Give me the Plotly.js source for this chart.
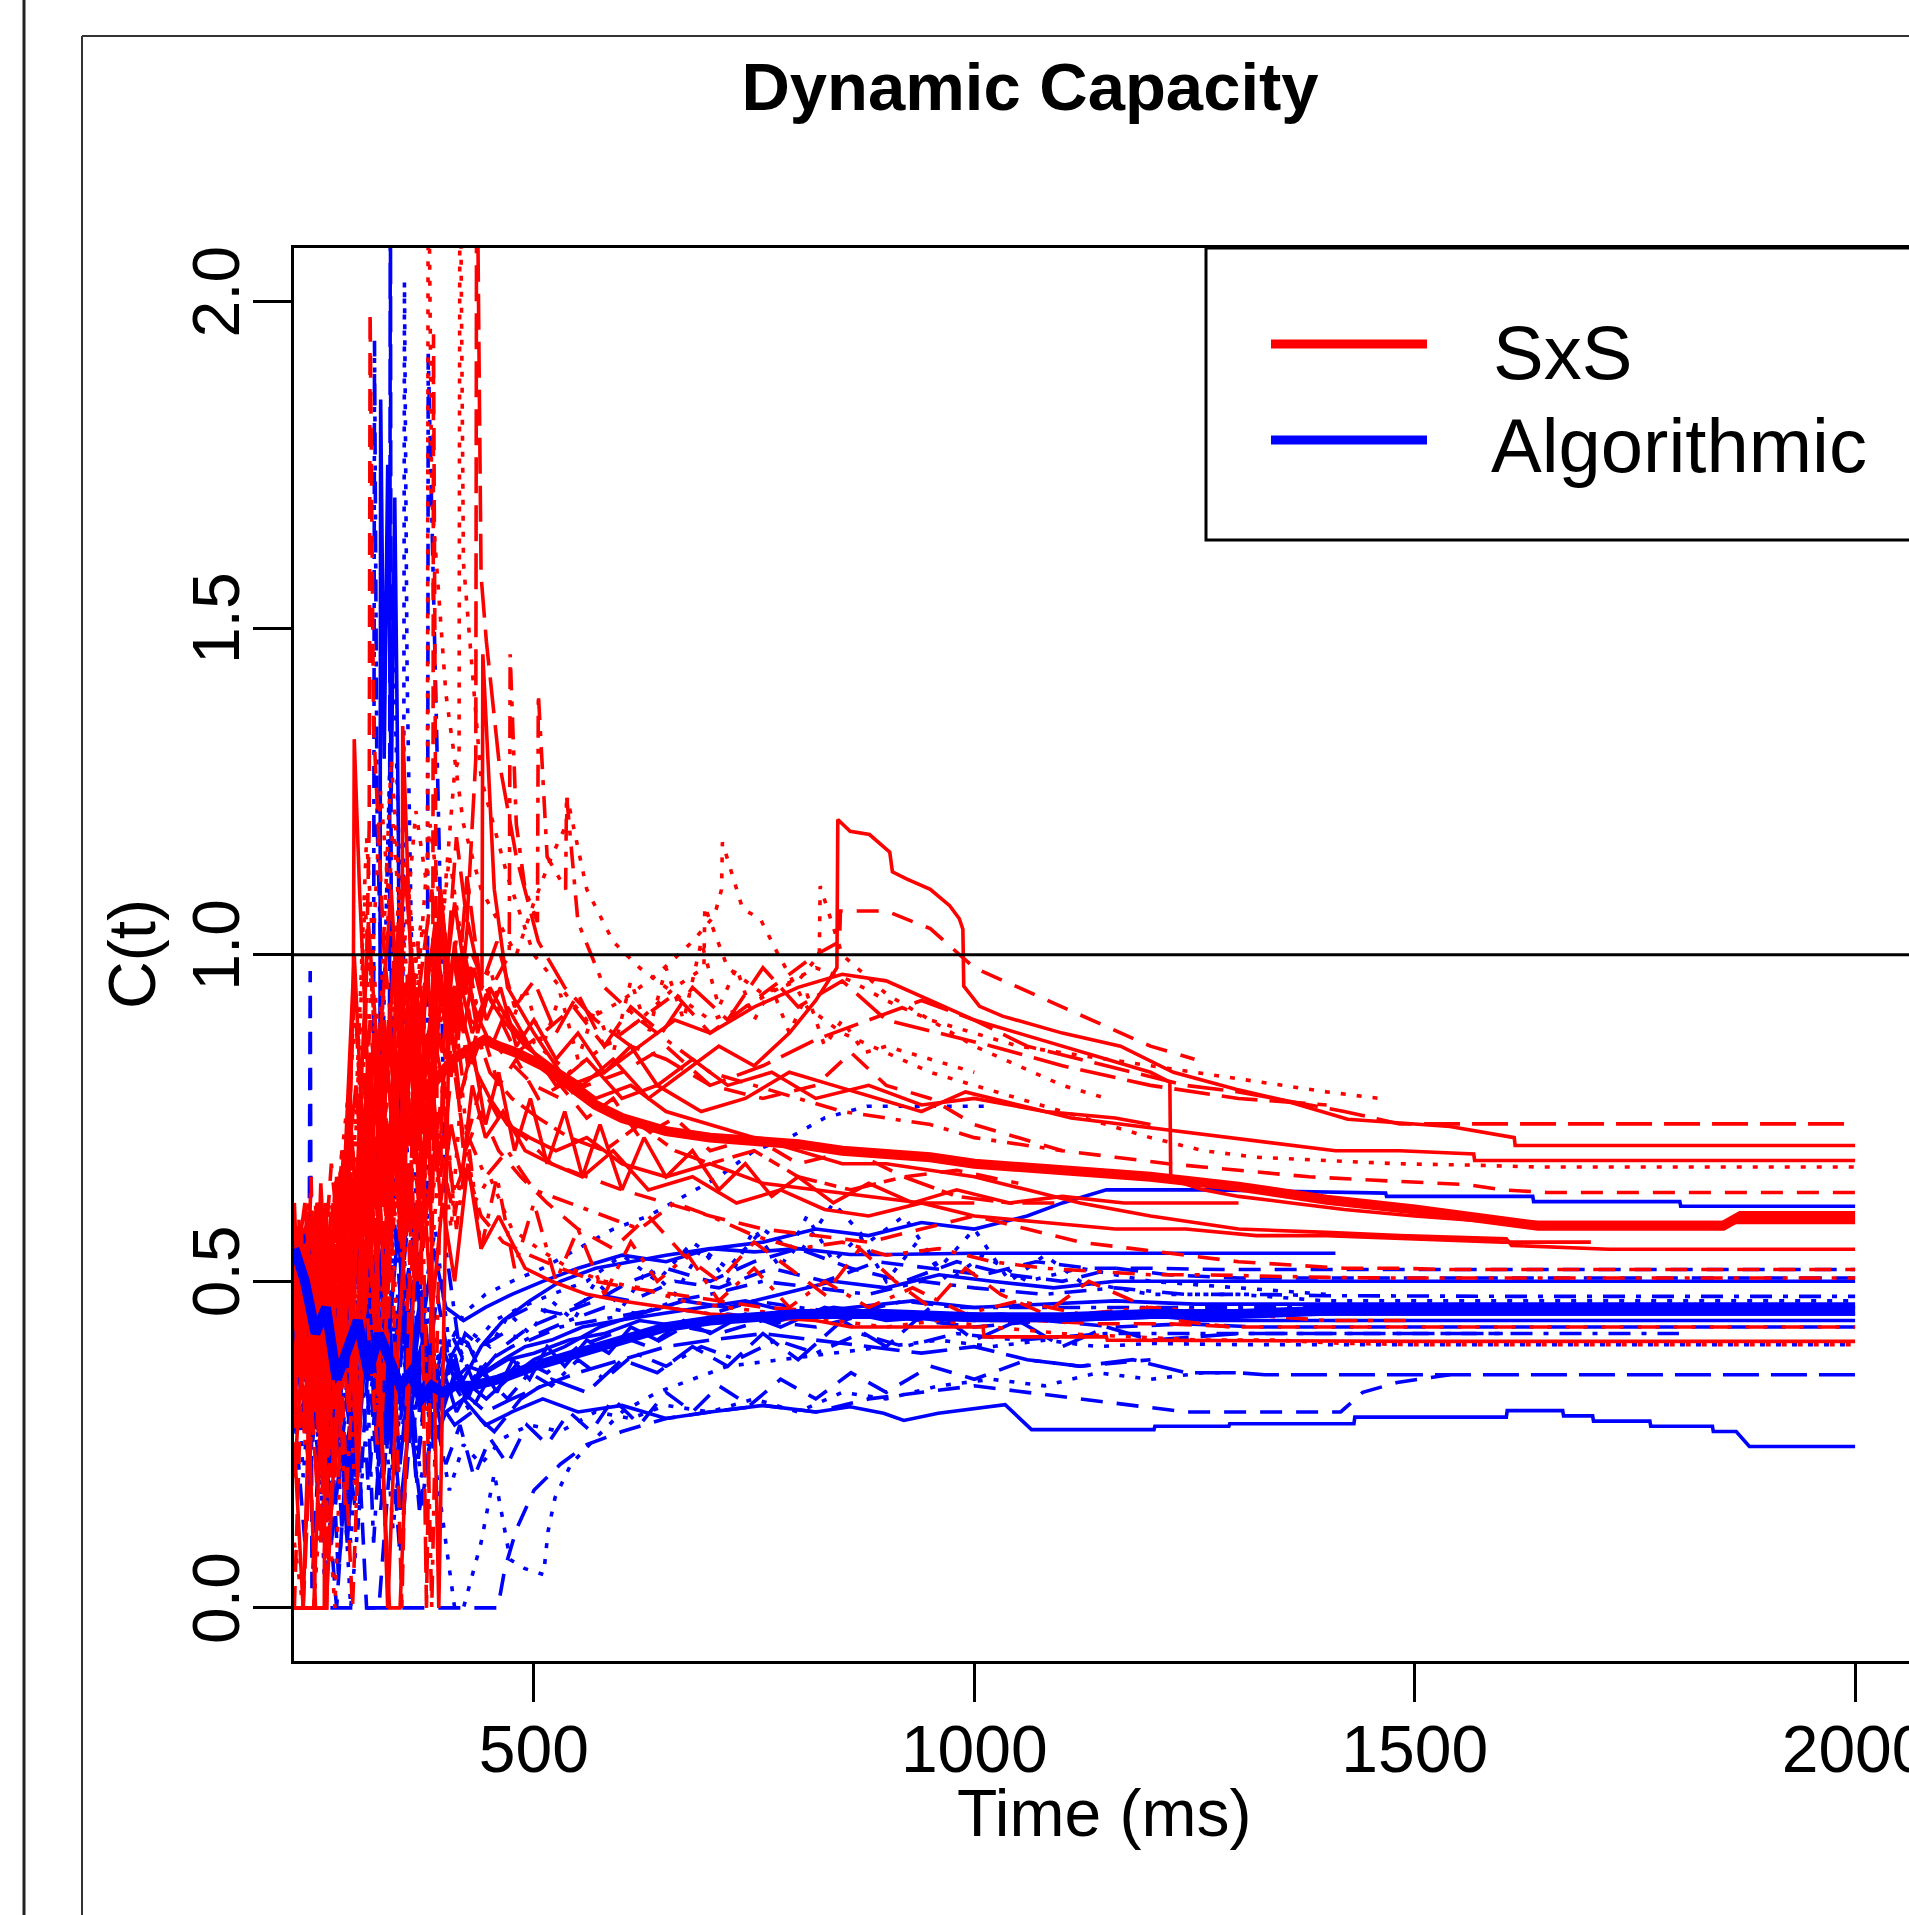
<!DOCTYPE html>
<html><head><meta charset="utf-8">
<script src="https://cdn.plot.ly/plotly-3.0.1.min.js"></script>
<style>html,body{margin:0;padding:0;overflow:hidden;background:#fff;width:1909px;height:1915px}#chart{width:1960px;height:1915px}</style>
</head><body><div id="chart"></div>
<script>
// ---------- SxS (red) individual curves: time (ms) / capacity C(t) ----------
const S01_t=[228,236,248,262,263,276,290,304,318,332,346,360,374,388,402,416,430,446,465,490,520,555,590,630,670,710,750,790,820,844,845,859,881,904,907,923,950,972,983,987,988,1006,1032,1100,1166,1226,1297,1349,1424,1540,1613,1614,2000];
const S01_c=[0.00,0.00,0.00,0.00,0.62,0.40,0.78,0.52,0.88,0.60,0.98,0.74,0.90,1.05,0.86,0.96,0.88,0.94,0.90,0.86,0.83,0.80,0.84,0.78,0.82,0.86,0.83,0.88,0.93,0.98,1.207,1.189,1.184,1.157,1.127,1.116,1.10,1.075,1.055,1.039,0.952,0.921,0.906,0.88,0.86,0.82,0.794,0.778,0.748,0.737,0.72,0.708,0.708];
const S02_t=[228,240,252,264,276,288,300,314,328,342,356,370,384,398,412,424,434,435,440,446,460,480,505,535,570,610,650,700,760,820,880,940,1000,1060,1120,1180,1240,1300,1360,1420,1483,2000];
const S02_c=[0.28,0.50,0.32,0.52,0.42,0.60,0.55,0.90,0.68,1.02,0.80,0.95,1.10,0.92,1.18,1.05,1.30,2.30,1.58,1.48,1.30,1.15,1.02,0.95,0.90,0.86,0.84,0.80,0.83,0.87,0.90,0.93,0.90,0.86,0.84,0.82,0.80,0.79,0.775,0.76,0.741,0.741];
const S03_t=[228,242,256,270,284,298,312,326,340,354,368,382,396,410,415,416,420,440,470,500,530,560,600,640,680,705,713,714,737,757,776,810,850,900,950,1000,1050,1100,1150,1200,1260,1320,1400,1480,1560,1640,2000];
const S03_c=[0.55,0.45,0.62,0.50,0.72,0.90,0.86,1.25,1.00,1.15,0.95,1.20,1.05,1.28,1.30,2.30,1.60,1.27,1.12,1.00,0.95,0.90,0.93,0.97,1.02,1.06,1.10,1.172,1.07,1.055,1.004,0.92,0.88,0.85,0.82,0.80,0.78,0.76,0.74,0.72,0.70,0.69,0.685,0.68,0.678,0.675,0.675];
const S04_t=[228,240,254,268,282,296,310,324,338,352,366,379,380,384,400,420,440,460,480,500,520,537,538,560,590,620,660,700,740,780,820,860,900,950,1000,1050,1100,1150,1200,1250,1300,1350,1400,1460];
const S04_c=[0.50,0.30,0.62,0.40,0.70,0.70,1.18,0.85,1.30,1.00,1.22,1.10,2.30,1.70,1.40,1.20,1.10,1.05,1.00,1.08,1.15,1.20,1.24,1.10,1.02,0.98,0.94,0.90,0.92,0.95,0.98,0.96,0.93,0.90,0.88,0.86,0.85,0.84,0.83,0.82,0.81,0.80,0.79,0.78];
const S05_t=[228,236,248,260,272,284,296,306,313,314,318,330,344,358,372,386,400,414,428,445,470,500,530,560,600,650,700,760,820,860,900,950,1000,1050,1100,1160,1220,1300,1380,1450,1560,1600,1650,2000];
const S05_c=[0.00,0.35,0.58,0.38,0.62,0.50,0.95,0.70,1.20,1.985,1.35,1.00,0.82,0.98,0.78,0.92,0.84,1.00,0.90,0.88,0.84,0.80,0.78,0.80,0.82,0.86,0.80,0.78,0.80,0.85,0.80,0.78,0.74,0.72,0.70,0.69,0.68,0.67,0.66,0.655,0.648,0.64,0.636,0.636];
const S06_t=[228,238,250,262,275,290,305,320,335,350,351,365,380,395,410,425,441,442,455,470,500,530,570,610,650,700,750,800,850,900,950,1000,1060,1120,1200,1300,1400,1483,1604,1610,1720,2000];
const S06_c=[0.0,0.0,0.55,0.20,0.50,0.30,0.75,0.45,0.90,0.60,1.35,0.80,0.70,0.95,0.85,1.05,0.95,1.46,1.10,0.95,0.88,0.82,0.78,0.80,0.76,0.74,0.72,0.70,0.68,0.68,0.67,0.66,0.64,0.62,0.60,0.58,0.575,0.57,0.565,0.555,0.549,0.549];
const S07_t=[228,240,252,266,280,294,308,322,336,350,364,378,392,406,420,440,460,490,520,560,600,650,700,760,820,880,940,1000,1060,1120,1180,1240,1300,1360,1420,1480,1540,1600,2000];
const S07_c=[0.5,0.3,0.6,0.1,0.4,0.0,0.5,0.25,0.7,0.0,0.8,0.6,0.75,0.9,0.7,0.8,0.75,0.72,0.68,0.66,0.64,0.62,0.60,0.58,0.57,0.56,0.58,0.60,0.58,0.56,0.55,0.54,0.53,0.525,0.52,0.52,0.518,0.518,0.518];
const S08_t=[228,244,258,272,286,300,314,328,342,356,370,384,398,412,426,445,470,500,540,580,620,660,700,750,800,850,900,960,1020,1080,1140,1200,1260,1320,1400,1480,1560,2000];
const S08_c=[0.40,0.62,0.30,0.55,0.15,0.48,0.80,0.35,0.65,0.45,0.85,0.62,0.78,0.58,0.72,0.66,0.70,0.64,0.62,0.60,0.58,0.62,0.60,0.57,0.55,0.56,0.54,0.55,0.53,0.52,0.515,0.51,0.51,0.508,0.506,0.505,0.505,0.505];
const S09_t=[228,240,252,264,276,288,300,312,324,336,348,360,372,384,396,410,425,440,460,490,520,560,600,650,700,760,820,860,1010,1011,1150,1151,1500,2000];
const S09_c=[0.20,0.45,0.00,0.00,0.30,0.55,0.20,0.60,0.35,0.00,0.00,0.40,0.70,0.45,0.62,0.50,0.68,0.55,0.60,0.52,0.50,0.48,0.47,0.46,0.45,0.445,0.44,0.43,0.43,0.415,0.415,0.41,0.408,0.408];
const S10_t=[228,238,250,262,274,286,298,310,322,334,346,358,370,382,394,406,418,432,450,475,505,540,580,620,670,720,780,840,900,960,1020,1100,1180,1260,1340,1420,1500,1600,1700,1800,2000];
const S10_c=[0.10,0.00,0.00,0.25,0.00,0.45,0.15,0.55,0.30,0.70,0.40,0.62,0.85,0.50,0.72,0.58,0.80,0.62,0.66,0.58,0.55,0.52,0.50,0.49,0.47,0.46,0.45,0.44,0.43,0.44,0.43,0.42,0.415,0.41,0.41,0.405,0.403,0.403,0.403,0.403,0.403];
const S11_t=[228,242,256,270,284,298,312,326,340,354,368,382,396,410,424,438,452,470,495,525,560,600,640,690,740,790,840,890,940,990,1050,1110,1170,1230,1290,1350,1410,1483,1567,1568,2000];
const S11_c=[0.55,0.35,0.62,0.42,0.70,0.62,1.05,0.78,0.95,1.12,0.88,1.00,0.92,1.08,0.95,0.90,0.86,0.92,0.86,0.80,0.84,0.78,0.80,0.76,0.78,0.82,0.80,0.78,0.76,0.79,0.77,0.75,0.74,0.73,0.72,0.71,0.70,0.70,0.695,0.685,0.685];
const S12_t=[228,246,262,278,294,310,326,342,358,374,385,386,390,406,422,440,465,495,530,570,610,660,710,760,820,880,940,1000,1070,1140,1220,1300,1400,1500,1600,1700,1790,2000];
const S12_c=[0.45,0.25,0.58,0.35,0.70,0.48,0.85,0.60,0.78,0.55,0.70,1.95,0.72,0.62,0.68,0.60,0.56,0.54,0.52,0.50,0.49,0.48,0.47,0.46,0.455,0.45,0.445,0.44,0.44,0.435,0.435,0.43,0.43,0.43,0.43,0.43,0.43,0.43];
const S13_t=[228,240,254,268,282,296,310,324,338,352,366,380,394,408,422,436,450,470,500,540,580,620,660,700,750,800,850,900,950,1000,1050,1100,1150,1200,1222,1223,1260,1300,1360,1420,1500,1600,1700,2000];
const S13_c=[0.30,0.55,0.60,0.45,0.58,1.00,0.60,0.85,1.10,0.75,0.95,0.82,1.10,0.90,1.00,0.88,0.95,0.90,0.85,0.80,0.82,0.86,0.90,0.88,0.92,0.95,0.97,0.96,0.93,0.90,0.88,0.86,0.84,0.82,0.805,0.656,0.64,0.63,0.62,0.61,0.60,0.59,0.59,0.59];
const S14_t=[228,250,270,290,310,330,350,370,390,410,430,455,480,510,545,580,620,660,700,740,780,820,847,848,900,950,1000,1050,1100,1150,1200,1250];
const S14_c=[0.55,0.30,0.68,0.40,0.80,0.55,0.95,0.70,1.05,0.88,1.00,0.92,0.85,0.88,0.92,0.86,0.90,0.94,0.88,0.92,0.96,1.00,1.02,1.067,1.067,1.04,0.98,0.95,0.92,0.89,0.86,0.84];
const S15_t=[228,244,260,276,292,308,324,340,356,372,388,404,420,440,470,505,540,580,620,660,693,694,720,760,800,824,825,850,900,950,1000,1050,1100,1150];
const S15_c=[0.50,0.62,0.45,0.66,0.52,1.08,0.80,1.20,0.90,1.05,0.95,1.15,1.00,0.95,0.90,0.86,0.82,0.86,0.90,0.95,0.98,1.074,0.98,0.94,0.96,1.00,1.105,1.00,0.94,0.90,0.86,0.83,0.80,0.78];
const S16_t=[228,240,252,264,276,288,295,296,302,312,324,336,348,360,372,384,396,408,420,435,450,470,495,525,560,600,650,700,760,820,880,940,1000];
const S16_c=[0.50,0.62,0.40,0.58,0.35,0.60,0.95,1.33,1.10,0.80,0.62,0.90,0.70,1.00,0.78,0.92,0.85,1.00,0.90,0.82,0.78,0.74,0.72,0.70,0.72,0.68,0.66,0.68,0.65,0.64,0.63,0.62,0.62];
const S17_t=[228,242,256,270,284,298,312,326,340,354,368,382,396,410,424,438,452,472,473,480,490,504,505,515,536,537,550,580,620,660,700,750,800,850,900,950,1000,1050,1100];
const S17_c=[0.35,0.60,0.25,0.62,0.48,0.30,0.66,0.90,0.58,0.80,1.02,0.75,0.92,0.82,1.00,0.90,0.95,1.00,1.46,1.20,1.10,1.05,1.40,1.15,1.10,1.245,1.05,0.95,0.90,0.86,0.82,0.80,0.78,0.76,0.75,0.74,0.72,0.71,0.70];
const S18_t=[228,238,250,262,274,286,298,310,322,334,346,358,370,382,394,406,418,430,445,465,490,520,555,590,630,680,730,780,830,880,940,1000,1080,1160,1240,1320,1400,1500,1600,1700];
const S18_c=[0.25,0.00,0.00,0.45,0.20,0.60,0.35,0.78,0.50,0.00,0.40,0.68,0.50,0.82,0.62,0.74,0.66,0.80,0.72,0.76,0.70,0.68,0.66,0.70,0.64,0.66,0.62,0.64,0.61,0.60,0.62,0.60,0.59,0.58,0.58,0.57,0.57,0.565,0.56,0.56];
const S19_t=[228,240,254,268,282,296,310,324,338,352,366,380,394,408,422,440,460,485,515,550,590,630,670,710,750,790,830,870,910,950,990,1030,1080,1130,1180,1230,1290];
const S19_c=[0.55,0.35,0.62,0.45,0.70,0.65,0.48,0.80,0.60,0.95,0.72,0.88,0.66,0.84,0.70,0.76,0.70,0.66,0.62,0.58,0.55,0.60,0.54,0.50,0.56,0.52,0.48,0.55,0.50,0.46,0.52,0.48,0.45,0.50,0.47,0.44,0.43];
const S20_t=[228,250,265,266,280,294,308,322,336,350,364,378,392,406,420,435,450,475,505,540,580,620,660,700,750,800,860,920,980,1040,1100];
const S20_c=[0.00,0.00,0.00,0.55,0.35,0.70,0.45,0.88,0.60,0.75,0.50,0.85,0.68,0.95,0.80,0.88,0.82,0.78,0.75,0.72,0.70,0.74,0.70,0.68,0.70,0.66,0.64,0.66,0.63,0.62,0.62];
const S21_t=[228,234,242,250,258,266,274,282,290,298,306,314,322,330,338,346,354,362,370,378,386,394,402,410,420,432,446,462,480,500,525,550,580,610,640,680,720,770,820,880,940,1000,1080,1160,1200];
const S21_c=[0.62,0.40,0.55,0.30,0.65,0.45,0.62,0.55,0.70,0.80,0.65,0.85,0.60,0.90,0.75,1.05,0.80,0.95,0.70,1.00,0.85,1.10,0.90,1.02,0.88,0.98,0.90,0.95,0.86,0.90,0.84,0.88,0.82,0.86,0.80,0.84,0.80,0.82,0.78,0.80,0.77,0.78,0.76,0.75,0.74];
const S22_t=[228,233,240,247,254,261,268,275,282,289,296,303,310,318,326,334,342,350,358,366,374,382,390,400,412,426,442,460,480,505,530,560,590,620,660,700,750,800,860,920,980,1050];
const S22_c=[0.22,0.60,0.35,0.66,0.28,0.55,0.20,0.62,0.40,0.75,0.30,0.58,0.82,0.45,0.70,0.38,0.88,0.60,0.78,0.50,0.92,0.72,0.85,0.78,0.95,0.82,0.88,0.80,0.84,0.78,0.80,0.75,0.78,0.72,0.75,0.70,0.72,0.68,0.70,0.66,0.67,0.65];
const S23_t=[228,245,262,279,296,313,330,347,364,381,398,415,432,450,470,490,510,530,550,570,590,610,630,650,670,690,710,730,750,770,790,810,830,850,875,900,950,1000];
const S23_c=[0.40,0.60,0.45,0.66,0.55,1.00,0.70,1.10,0.85,1.00,0.90,1.05,0.92,0.98,0.88,0.95,0.86,0.94,0.84,0.92,0.85,0.96,0.88,0.98,0.90,1.02,0.92,0.98,0.90,0.95,0.88,0.94,0.86,0.90,0.85,0.86,0.84,0.82];
const S24_t=[228,236,244,252,260,268,276,284,292,300,310,320,330,340,350,360,370,380,392,404,416,430,445,460,478,496,515,535,555,575,600,625,650,680,710,740,770,800,840,880,930,980,1040,1100,1170,1240,1300];
const S24_c=[0.35,0.58,0.25,0.50,0.18,0.45,0.66,0.38,0.60,0.28,0.55,0.80,0.48,0.72,0.55,0.88,0.62,0.80,0.00,0.92,0.78,0.86,0.74,0.82,0.70,0.78,0.68,0.76,0.66,0.74,0.64,0.72,0.66,0.70,0.64,0.68,0.63,0.66,0.62,0.65,0.62,0.64,0.62,0.63,0.62,0.62,0.62];
const S25_t=[228,238,248,258,268,278,288,298,308,318,328,338,348,358,368,378,388,398,410,424,440,458,478,500,525,550,580,610,645,680,720,760,800,850,900,960,1020,1100,1200,1300,1400];
const S25_c=[0.00,0.00,0.30,0.10,0.45,0.20,0.55,0.35,0.68,0.45,0.30,0.62,0.85,0.58,0.95,0.00,0.90,1.05,0.88,1.12,0.95,1.02,0.92,0.96,0.88,0.94,0.86,0.92,0.88,0.95,0.90,0.98,0.92,0.96,0.90,0.88,0.86,0.83,0.80,0.78,0.77];
const S26_t=[228,240,252,264,276,288,300,312,324,336,348,360,372,384,396,410,425,440,458,478,500,525,550,580,610,640,675,710,750,790,830,880,930,990,1050,1120,1200,1300,1400,1500];
const S26_c=[0.55,0.25,0.62,0.00,0.35,0.72,0.40,0.65,0.30,0.58,0.85,0.50,0.70,0.00,0.80,0.60,0.72,0.55,0.66,0.52,0.62,0.50,0.58,0.48,0.56,0.50,0.54,0.47,0.52,0.46,0.50,0.46,0.49,0.45,0.47,0.45,0.46,0.45,0.44,0.44];
// SxS mean curve
const SMEAN_t=[228,240,252,264,276,288,300,312,324,336,348,360,372,384,396,408,420,432,444,460,480,510,540,570,600,650,700,750,800,850,900,950,1000,1100,1200,1300,1400,1500,1560,1640,1850,1870,2000];
const SMEAN_c=[0.45,0.52,0.42,0.58,0.50,0.64,0.56,0.70,0.62,0.74,0.68,0.76,0.78,0.80,0.82,0.84,0.85,0.86,0.87,0.86,0.85,0.83,0.80,0.77,0.75,0.73,0.72,0.715,0.71,0.70,0.695,0.69,0.68,0.67,0.66,0.645,0.625,0.61,0.60,0.585,0.585,0.60,0.60];

// ---------- Algorithmic (blue) individual curves ----------
const A01_t=[228,240,252,264,276,288,300,312,324,336,348,360,372,386,400,420,445,475,510,550,600,650,700,760,820,859,897,920,959,1035,1065,1204,1205,1289,1290,1431,1432,1604,1605,1668,1669,1702,1703,1767,1768,1838,1839,1865,1880,2000];
const A01_c=[0.45,0.30,0.50,0.20,0.38,0.10,0.32,0.45,0.22,0.35,0.15,0.30,0.40,0.25,0.30,0.32,0.28,0.30,0.32,0.30,0.31,0.29,0.30,0.31,0.30,0.308,0.298,0.287,0.298,0.311,0.273,0.273,0.278,0.278,0.282,0.282,0.292,0.292,0.302,0.302,0.294,0.294,0.286,0.286,0.278,0.278,0.27,0.27,0.247,0.247];
const A02_t=[228,240,252,264,276,288,300,312,324,336,337,338,350,362,374,386,400,420,445,475,510,550,600,650,700,760,820,880,940,1000,1060,1120,1180,1240,1300,1330,2000];
const A02_c=[0.55,0.35,0.60,0.25,0.45,0.15,0.40,0.60,0.72,0.85,2.30,0.95,0.55,0.35,0.48,0.30,0.36,0.33,0.30,0.32,0.34,0.36,0.38,0.40,0.41,0.42,0.41,0.40,0.39,0.40,0.38,0.37,0.38,0.36,0.36,0.357,0.357];
const A03_t=[228,238,250,262,274,286,298,310,322,334,346,352,353,356,366,380,395,410,420,440,455,473,490,511,516,524,542,570,600,640,680,720,780,840,900,960,1020,1080,1140,1200,1300,1400,1500,1600,2000];
const A03_c=[0.50,0.20,0.42,0.05,0.30,0.55,0.25,0.45,0.65,0.35,0.80,1.00,2.03,1.43,0.60,0.30,0.15,0.00,0.00,0.10,0.206,0.074,0.06,0.051,0.117,0.169,0.22,0.26,0.30,0.33,0.35,0.37,0.38,0.39,0.40,0.41,0.40,0.41,0.40,0.405,0.403,0.403,0.403,0.403,0.403];
const A04_t=[228,242,256,270,284,298,312,326,340,354,368,379,380,393,400,415,430,450,475,505,540,580,620,660,700,760,820,880,940,1000,1080,1160,1240,1320,1400,1500,1600,1700,2000];
const A04_c=[0.58,0.40,0.22,0.48,0.30,0.55,0.18,0.42,0.62,0.38,0.50,0.60,1.92,1.13,0.55,0.40,0.35,0.38,0.40,0.42,0.44,0.46,0.45,0.47,0.48,0.50,0.49,0.48,0.50,0.49,0.48,0.49,0.48,0.48,0.478,0.477,0.477,0.477,0.477];
const A05_t=[228,245,246,248,258,270,282,294,306,318,330,342,354,366,378,390,404,420,440,465,495,530,570,610,650,700,750,800,860,920,980,1040,1100,1160,1220,1300,1380,1460,1540,2000];
const A05_c=[0.52,0.60,0.975,0.03,0.30,0.15,0.40,0.22,0.50,0.35,0.58,0.28,0.45,0.62,0.40,0.30,0.38,0.42,0.36,0.40,0.43,0.45,0.47,0.50,0.52,0.50,0.53,0.55,0.52,0.50,0.53,0.51,0.50,0.52,0.51,0.505,0.505,0.505,0.505,0.505];
const A06_t=[228,240,252,264,276,288,300,312,324,336,348,360,372,386,400,420,445,475,510,550,600,650,700,760,820,880,940,1000,1060,1100,1150,1270,1467,1468,1634,1635,1801,1802,2000];
const A06_c=[0.48,0.58,0.35,0.52,0.25,0.45,0.60,0.38,0.55,0.30,0.48,0.65,0.42,0.55,0.46,0.44,0.46,0.48,0.50,0.52,0.54,0.53,0.55,0.56,0.58,0.57,0.59,0.58,0.60,0.62,0.64,0.64,0.635,0.63,0.63,0.622,0.622,0.615,0.615];
const A07_t=[228,242,256,270,284,298,312,325,326,330,334,338,342,346,349,362,376,390,404,420,440,465,495,530,570,610,650,700,750,800,859,900,1000,1100,1200,1300,1410];
const A07_c=[0.56,0.40,0.58,0.30,0.50,0.20,0.45,0.60,1.85,1.30,1.75,1.25,1.70,1.20,0.50,0.35,0.42,0.30,0.38,0.35,0.40,0.44,0.47,0.50,0.52,0.53,0.54,0.55,0.545,0.55,0.541,0.541,0.543,0.543,0.543,0.543,0.543];
const A08_t=[228,244,260,276,292,308,324,340,356,372,388,404,420,445,475,510,550,590,630,670,710,750,790,830,878,1021];
const A08_c=[0.40,0.22,0.50,0.30,0.10,0.42,0.60,1.50,0.70,0.45,0.58,0.40,0.45,0.48,0.50,0.52,0.55,0.58,0.60,0.63,0.66,0.70,0.72,0.75,0.768,0.768];
const A09_t=[228,240,254,268,282,296,310,324,338,352,366,380,394,408,422,440,460,485,515,550,590,630,670,710,760,820,880,940,1000,1080,1160,1240,1320,1400,1500,1600,2000];
const A09_c=[0.35,0.55,0.28,0.48,0.12,0.38,0.00,0.00,0.25,0.45,0.20,0.38,0.28,0.40,0.32,0.36,0.34,0.38,0.36,0.40,0.42,0.40,0.43,0.42,0.44,0.43,0.45,0.44,0.43,0.44,0.43,0.435,0.43,0.43,0.43,0.43,0.43];
const A10_t=[228,260,300,340,380,400,421,445,459,467,480,500,530,560,600,650,700,760,820,880,940,1000,1060,1120,1180,1240,1289,1416,1441,1480,1540];
const A10_c=[0.00,0.00,0.00,0.00,0.00,0.00,0.00,0.00,0.00,0.06,0.12,0.18,0.22,0.25,0.27,0.29,0.30,0.31,0.30,0.32,0.33,0.34,0.33,0.32,0.31,0.30,0.30,0.30,0.33,0.345,0.357];
const A11_t=[228,238,250,262,274,286,298,310,322,334,346,358,370,384,398,412,428,446,470,500,535,575,620,670,720,780,840,900,960,1020,1090,1160,1240,1320,1400,1500,2000];
const A11_c=[0.50,0.35,0.55,0.18,0.42,0.60,0.30,0.48,0.25,0.40,0.58,0.32,0.45,0.28,0.36,0.30,0.34,0.32,0.35,0.38,0.40,0.43,0.45,0.47,0.46,0.48,0.50,0.49,0.51,0.50,0.49,0.50,0.50,0.50,0.50,0.50,0.50];
const A12_t=[228,246,262,278,294,310,326,342,358,374,390,406,422,440,465,495,530,570,610,660,710,770,830,890,950,1010,1070,1130,1200,1280,1360,1440,1520,2000];
const A12_c=[0.42,0.20,0.50,0.05,0.35,0.55,0.15,0.40,0.60,0.30,0.48,0.36,0.42,0.40,0.44,0.46,0.45,0.48,0.47,0.50,0.49,0.52,0.50,0.53,0.52,0.51,0.53,0.52,0.52,0.518,0.518,0.518,0.518,0.518];
const A13_t=[228,244,260,276,292,308,324,340,356,372,388,404,420,440,465,495,530,570,610,650,700,750,800,850,900,960,1020,1080,1140,1200,1260,1300];
const A13_c=[0.30,0.48,0.15,0.38,0.00,0.25,0.42,0.12,0.35,0.20,0.30,0.18,0.25,0.22,0.26,0.28,0.27,0.30,0.29,0.31,0.30,0.32,0.30,0.33,0.32,0.34,0.35,0.34,0.36,0.35,0.36,0.36];
const A14_t=[228,240,252,264,276,288,300,312,324,336,348,360,372,384,396,410,425,445,470,500,540,580,620,670,720,780,840,900,960,1030,1100,1180,1260,1340,1420,1500,1600,2000];
const A14_c=[0.55,0.45,0.28,0.50,0.35,0.15,0.40,0.52,0.30,0.44,0.22,0.38,0.48,0.32,0.40,0.35,0.37,0.36,0.38,0.39,0.41,0.42,0.44,0.43,0.45,0.44,0.46,0.45,0.44,0.45,0.44,0.45,0.44,0.44,0.44,0.44,0.44,0.44];
const A15_t=[228,242,256,270,284,298,312,318,319,322,336,350,364,378,392,406,420,440,465,495,530,570,610,650,700,750,800,860,920,980,1050,1120,1200,1300,1400,2000];
const A15_c=[0.45,0.60,0.30,0.52,0.20,0.42,0.65,0.90,1.94,1.20,0.55,0.40,0.28,0.45,0.35,0.42,0.38,0.40,0.42,0.41,0.43,0.44,0.45,0.46,0.45,0.47,0.46,0.45,0.47,0.46,0.46,0.46,0.46,0.46,0.46,0.46];
const A16_t=[228,250,270,290,310,330,350,370,390,410,430,455,485,520,560,600,640,680,720,760,800,850,900,950,1000,1050,1100,1150,1200,1300,1400,1500,1600];
const A16_c=[0.20,0.45,0.10,0.35,0.55,0.25,0.45,0.15,0.32,0.28,0.30,0.27,0.32,0.35,0.33,0.38,0.36,0.40,0.37,0.42,0.38,0.44,0.40,0.46,0.41,0.44,0.40,0.43,0.41,0.42,0.42,0.42,0.42];
const A17_t=[228,240,254,268,282,296,310,324,338,352,366,380,394,410,430,455,485,520,560,600,640,680,720,760,800,840,880,920,960,1000,1040,1080,1120,1200,1300,1400,1500,2000];
const A17_c=[0.52,0.35,0.60,0.42,0.25,0.50,0.35,0.62,0.40,0.55,0.30,0.46,0.38,0.42,0.40,0.44,0.46,0.48,0.50,0.54,0.50,0.56,0.52,0.58,0.54,0.62,0.56,0.60,0.52,0.58,0.50,0.54,0.50,0.48,0.48,0.47,0.47,0.47];
const A18_t=[228,238,250,262,274,286,298,310,322,334,346,358,370,382,394,408,424,442,465,490,520,555,595,640,690,740,800,860,930,1000,1080,1160,1250,1350,1450,1550,2000];
const A18_c=[0.57,0.50,0.38,0.55,0.28,0.46,0.58,0.35,0.50,0.25,0.42,0.52,0.30,0.40,0.34,0.38,0.33,0.36,0.38,0.40,0.41,0.43,0.44,0.45,0.46,0.47,0.45,0.46,0.47,0.46,0.465,0.47,0.465,0.465,0.465,0.465,0.465];
const A19_t=[228,236,244,252,260,268,276,284,292,300,310,320,330,340,350,360,372,384,396,410,425,440,458,476,495,515,535,560,585,610,640,670,700,740,780,830,900,1000,1100,1300,1500,2000];
const A19_c=[0.52,0.40,0.56,0.30,0.48,0.22,0.42,0.55,0.28,0.45,0.35,0.50,0.25,0.40,0.30,0.45,0.33,0.38,0.30,0.36,0.32,0.37,0.33,0.38,0.35,0.40,0.37,0.41,0.39,0.43,0.41,0.44,0.42,0.45,0.43,0.46,0.44,0.45,0.44,0.45,0.45,0.45];
const A20_t=[228,240,252,264,276,288,300,312,324,336,348,360,372,386,400,416,432,450,470,492,515,540,565,590,620,650,680,710,745,780,820,860,900,950,1000,1060,1120,1200];
const A20_c=[0.30,0.10,0.40,0.20,0.00,0.25,0.12,0.38,0.18,0.30,0.08,0.28,0.15,0.30,0.22,0.28,0.20,0.26,0.22,0.28,0.25,0.30,0.27,0.32,0.28,0.33,0.30,0.34,0.31,0.35,0.32,0.36,0.33,0.37,0.35,0.38,0.37,0.38];
const A21_t=[228,242,256,270,284,298,312,326,340,354,368,382,396,412,430,450,472,495,520,545,570,600,630,660,690,720,750,780,810,840,870,900,935,970,1010,1060,1120,1200,1300,1400];
const A21_c=[0.45,0.25,0.50,0.15,0.40,0.55,0.30,0.45,0.20,0.38,0.50,0.32,0.42,0.36,0.42,0.40,0.45,0.42,0.47,0.44,0.50,0.46,0.52,0.48,0.55,0.50,0.58,0.52,0.60,0.53,0.57,0.50,0.56,0.50,0.54,0.50,0.52,0.50,0.49,0.48];
const A22_t=[228,238,248,258,268,278,288,298,308,318,328,338,348,358,368,380,394,410,428,448,470,495,520,550,580,615,650,690,730,775,820,870,920,980,1050,1150,1300,1500,1800];
const A22_c=[0.40,0.55,0.30,0.48,0.20,0.36,0.52,0.25,0.44,0.10,0.32,0.48,0.28,0.40,0.22,0.36,0.30,0.34,0.30,0.35,0.32,0.36,0.34,0.38,0.35,0.39,0.37,0.40,0.38,0.41,0.39,0.42,0.40,0.42,0.41,0.42,0.42,0.42,0.42];
// Algorithmic mean curve
const AMEAN_t=[228,240,252,264,276,288,300,312,324,336,348,360,372,384,396,410,430,460,500,550,600,650,700,750,800,900,1000,1100,1200,1300,1400,1500,1600,1800,2000];
const AMEAN_c=[0.55,0.50,0.42,0.46,0.35,0.40,0.44,0.36,0.42,0.38,0.34,0.36,0.32,0.34,0.33,0.34,0.34,0.35,0.37,0.39,0.41,0.43,0.44,0.445,0.45,0.45,0.445,0.445,0.45,0.45,0.455,0.455,0.455,0.455,0.455];

// axis ticks / labels / text
const xTicks=[500,1000,1500,2000];
const yTicks=[0,0.5,1,1.5,2];
const yTickText=['0.0','0.5','1.0','1.5','2.0'];
const legendLabels=['SxS','Algorithmic'];
const titleText='Dynamic Capacity';
const xTitle='Time (ms)';
const yTitle='C(t)';
const refLevel=1.0;

// ---------- build ----------
const sxsSeries=[[S01_t,S01_c],[S02_t,S02_c],[S03_t,S03_c],[S04_t,S04_c],[S05_t,S05_c],[S06_t,S06_c],[S07_t,S07_c],[S08_t,S08_c],[S09_t,S09_c],[S10_t,S10_c],[S11_t,S11_c],[S12_t,S12_c],[S13_t,S13_c],[S14_t,S14_c],[S15_t,S15_c],[S16_t,S16_c],[S17_t,S17_c],[S18_t,S18_c],[S19_t,S19_c],[S20_t,S20_c],[S21_t,S21_c],[S22_t,S22_c],[S23_t,S23_c],[S24_t,S24_c],[S25_t,S25_c],[S26_t,S26_c]];
const algSeries=[[A01_t,A01_c],[A02_t,A02_c],[A03_t,A03_c],[A04_t,A04_c],[A05_t,A05_c],[A06_t,A06_c],[A07_t,A07_c],[A08_t,A08_c],[A09_t,A09_c],[A10_t,A10_c],[A11_t,A11_c],[A12_t,A12_c],[A13_t,A13_c],[A14_t,A14_c],[A15_t,A15_c],[A16_t,A16_c],[A17_t,A17_c],[A18_t,A18_c],[A19_t,A19_c],[A20_t,A20_c],[A21_t,A21_c],[A22_t,A22_c]];

const DASH={solid:'solid',dashed:'22px,14px',dotted:'5px,11px',dotdash:'5px,11px,22px,11px',longdash:'36px,12px',twodash:'12px,9px,32px,8px'};
const sxsStyle=['solid','longdash','dotted','dotted','dashed','solid','dashed','dotdash','solid','dotted','solid','dashed','solid','dashed','dotted','solid','dotdash','solid','dashed','twodash','solid','dashed','dotted','solid','longdash','dotdash'];
const algStyle=['solid','longdash','dotted','dotdash','dashed','solid','solid','dotted','dashed','dashed','solid','dashed','dotted','solid','dotdash','longdash','dotted','solid','solid','dashed','dotted','dotdash'];

const RED='#ff0000', BLUE='#0000ff', THIN=3.6, THICK=10;
function mk(pair,color,dash,w){
  const n=Math.min(pair[0].length,pair[1].length);
  return {type:'scatter',mode:'lines',x:pair[0].slice(0,n),y:pair[1].slice(0,n),
    line:{color:color,width:w,dash:DASH[dash]},hoverinfo:'skip',showlegend:false};
}
const traces=[];
algSeries.forEach((p,i)=>traces.push(mk(p,BLUE,algStyle[i],THIN)));
sxsSeries.forEach((p,i)=>traces.push(mk(p,RED,sxsStyle[i],THIN)));
traces.push(mk([SMEAN_t,SMEAN_c],RED,'solid',THICK));
traces.push(mk([AMEAN_t,AMEAN_c],BLUE,'solid',THICK));

// pixel geometry helpers (figure is 1960 x 1915, plot area 294..1915 x 248..1661)
const W=1960,H=1915,PL=294,PR=1915,PT=248,PB=1661;
const px=x=>(x-PL)/(PR-PL), py=y=>(PB-y)/(PB-PT);
const FONT='Liberation Sans, Arial, Helvetica, sans-serif';

const shapes=[
  {type:'line',xref:'paper',yref:'y',x0:0,x1:1,y0:refLevel,y1:refLevel,line:{color:'#000',width:3},layer:'above'},
  {type:'rect',xref:'paper',yref:'paper',x0:px(1206),x1:px(1990),y0:py(540),y1:py(248),line:{color:'#000',width:3},fillcolor:'#fff',layer:'above'},
  {type:'line',xref:'paper',yref:'paper',x0:px(1271),x1:px(1427),y0:py(344),y1:py(344),line:{color:RED,width:9},layer:'above'},
  {type:'line',xref:'paper',yref:'paper',x0:px(1271),x1:px(1427),y0:py(440),y1:py(440),line:{color:BLUE,width:9},layer:'above'},
  {type:'line',xref:'paper',yref:'paper',x0:px(24),x1:px(24),y0:py(-20),y1:py(1940),line:{color:'#222',width:3},layer:'above'},
  {type:'line',xref:'paper',yref:'paper',x0:px(82),x1:px(82),y0:py(36),y1:py(1940),line:{color:'#333',width:2},layer:'above'},
  {type:'line',xref:'paper',yref:'paper',x0:px(82),x1:px(1990),y0:py(36),y1:py(36),line:{color:'#333',width:2},layer:'above'}
];
const annotations=[
  {xref:'paper',yref:'paper',x:px(1491),y:py(352),xanchor:'left',yanchor:'middle',text:legendLabels[0],showarrow:false,font:{family:FONT,size:76,color:'#000'}},
  {xref:'paper',yref:'paper',x:px(1489),y:py(446),xanchor:'left',yanchor:'middle',text:legendLabels[1],showarrow:false,font:{family:FONT,size:76,color:'#000'}},
  {xref:'paper',yref:'paper',x:px(1104),y:py(1813),xanchor:'center',yanchor:'middle',text:xTitle,showarrow:false,font:{family:FONT,size:66,color:'#000'}},
  {xref:'paper',yref:'paper',x:px(132),y:py(954),xanchor:'center',yanchor:'middle',text:yTitle,textangle:-90,showarrow:false,font:{family:FONT,size:66,color:'#000'}}
];

const axCommon={showgrid:false,zeroline:false,showline:true,mirror:true,linecolor:'#000',linewidth:3,
  ticks:'outside',ticklen:38,tickwidth:3,tickcolor:'#000',tickfont:{family:FONT,size:66,color:'#000'}};
const layout={
  width:W,height:H,margin:{l:PL,r:W-PR,t:PT,b:H-PB,pad:0},
  paper_bgcolor:'#fff',plot_bgcolor:'#fff',showlegend:false,
  title:{text:'<b>'+titleText+'</b>',font:{family:FONT,size:67,color:'#000'},xref:'container',yref:'container',x:1030/W,xanchor:'center',y:1-87/H,yanchor:'middle'},
  xaxis:Object.assign({},axCommon,{range:[227.6,2068],tickmode:'array',tickvals:xTicks,ticklabelstandoff:-9}),
  yaxis:Object.assign({},axCommon,{range:[-0.0813,2.082],tickmode:'array',tickvals:yTicks,ticktext:yTickText,tickangle:-90,ticklabelstandoff:-12}),
  shapes:shapes,annotations:annotations
};
Plotly.newPlot('chart',traces,layout,{staticPlot:true,displayModeBar:false});
</script></body></html>
